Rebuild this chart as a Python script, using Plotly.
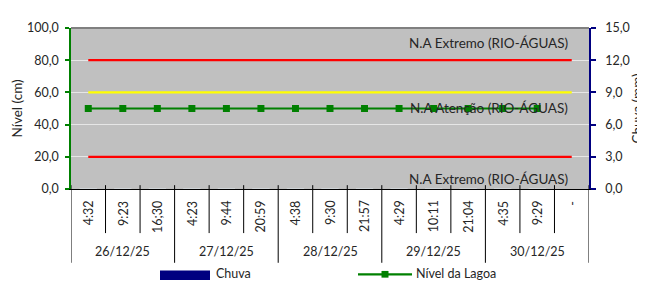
import plotly.graph_objects as go

# ---- data ----
dates = ["26/12/25", "27/12/25", "28/12/25", "29/12/25", "30/12/25"]
times_per_date = [
    ["4:32", "9:23", "16;30"],
    ["4:23", "9:44", "20:59"],
    ["4:38", "9:30", "21:57"],
    ["4:29", "10:11", "21:04"],
    ["4:35", "9:29", "-"],
]
times = [t for grp in times_per_date for t in grp]

nivel_lagoa = [50, 50, 50, 50, 50, 50, 50, 50, 50, 50, 50, 50, 50, 50, None]
chuva = [0, 0, 0, 0, 0, 0, 0, 0, 0, 0, 0, 0, 0, 0, None]
extremo_sup = [80, 80, 80, 80, 80, 80, 80, 80, 80, 80, 80, 80, 80, 80, 80]
atencao = [60, 60, 60, 60, 60, 60, 60, 60, 60, 60, 60, 60, 60, 60, 60]
extremo_inf = [20, 20, 20, 20, 20, 20, 20, 20, 20, 20, 20, 20, 20, 20, 20]

label_extremo = "N.A Extremo (RIO-ÁGUAS)"
label_atencao = "N.A Atenção (RIO-ÁGUAS)"

FONT = "Lato"
TXT = "#262626"
GREEN = "#008000"
NAVY = "#000080"

# The page body has an 8px margin, so the figure starts at window (8, 8).
OFF = 8
W, H = 645 - OFF, 284 - OFF
# plot area in window pixels: x 71..589, y 21..189
PL, PR, PT, PB = 71, 589, 21, 189
L, R, T, B = PL - OFF, W - (PR - OFF), PT - OFF, H - (PB - OFF)
PW, PH = PR - PL, PB - PT


def px(x):
    return (x - PL) / PW


def py(y):
    return (PB - y) / PH


fig = go.Figure()

fig.add_trace(go.Bar(x=times, y=chuva, name="Chuva", marker_color=NAVY,
                     yaxis="y2", showlegend=False))
fig.add_trace(go.Scatter(x=times, y=extremo_sup, mode="lines", line=dict(color="#ff0000", width=2.2),
                         showlegend=False, hoverinfo="skip"))
fig.add_trace(go.Scatter(x=times, y=atencao, mode="lines", line=dict(color="#ffff00", width=2.2),
                         showlegend=False, hoverinfo="skip"))
fig.add_trace(go.Scatter(x=times, y=extremo_inf, mode="lines", line=dict(color="#ff0000", width=2.2),
                         showlegend=False, hoverinfo="skip"))
fig.add_trace(go.Scatter(x=times, y=nivel_lagoa, mode="lines+markers", name="Nível da Lagoa",
                         line=dict(color=GREEN, width=2.2),
                         marker=dict(symbol="square", size=7, color=GREEN),
                         showlegend=False))

annotations = []
shapes = []

# series labels
n_last = len(times) - 1
annotations.append(dict(x=n_last, y=extremo_sup[-1], xref="x", yref="y", text=label_extremo,
                        showarrow=False, xanchor="right", yanchor="bottom", xshift=-2, yshift=7,
                        font=dict(family=FONT, size=13.5, color=TXT)))
annotations.append(dict(x=n_last, y=atencao[-1], xref="x", yref="y", text=label_atencao,
                        showarrow=False, xanchor="right", yanchor="top", xshift=-2, yshift=-6,
                        font=dict(family=FONT, size=13.5, color=TXT)))
annotations.append(dict(x=n_last, y=extremo_inf[-1], xref="x", yref="y", text=label_extremo,
                        showarrow=False, xanchor="right", yanchor="top", xshift=-2, yshift=-12,
                        font=dict(family=FONT, size=13.5, color=TXT)))

# x-axis time labels
for i, t in enumerate(times):
    annotations.append(dict(x=i, y=py(199), xref="x", yref="paper", text=t, textangle=-90,
                            showarrow=False, xanchor="center", yanchor="top",
                            font=dict(family=FONT, size=12.5, color=TXT)))

# x-axis date labels and separators
start = 0
for d, grp in zip(dates, times_per_date):
    n = len(grp)
    center = start + (n - 1) / 2
    annotations.append(dict(x=center, y=py(254), xref="x", yref="paper", text=d,
                            showarrow=False, xanchor="center", yanchor="middle",
                            font=dict(family=FONT, size=12.5, color=TXT)))
    for k in range(1, n):
        xb = start + k - 0.5
        shapes.append(dict(type="line", xref="x", yref="paper", x0=xb, x1=xb,
                           y0=py(185), y1=py(235), line=dict(color="#000000", width=1)))
    xb = start - 0.5
    shapes.append(dict(type="line", xref="x", yref="paper", x0=xb, x1=xb,
                       y0=py(185), y1=py(266), line=dict(color="#000000", width=1)))
    start += n
shapes.append(dict(type="line", xref="x", yref="paper", x0=start - 0.5, x1=start - 0.5,
                   y0=py(185), y1=py(266), line=dict(color="#000000", width=1)))

# top border
shapes.append(dict(type="line", xref="paper", yref="paper", x0=0, x1=1, y0=1, y1=1,
                   line=dict(color="#808080", width=2)))

# axis titles
annotations.append(dict(x=px(16), y=0.5, xref="paper", yref="paper", text="Nível (cm)",
                        textangle=-90, showarrow=False, xanchor="center", yanchor="middle",
                        font=dict(family=FONT, size=13.5, color=TXT)))
annotations.append(dict(x=px(636), y=0.5, xref="paper", yref="paper", text="Chuva (mm)",
                        textangle=-90, showarrow=False, xanchor="center", yanchor="middle",
                        font=dict(family=FONT, size=13.5, color=TXT)))

# manual legend
shapes.append(dict(type="rect", xref="paper", yref="paper", x0=px(160), x1=px(210),
                   y0=py(274), y1=py(284), fillcolor=NAVY, line=dict(width=0)))
annotations.append(dict(x=px(214), y=py(277), xref="paper", yref="paper", text="Chuva",
                        showarrow=False, xanchor="left", yanchor="middle",
                        font=dict(family=FONT, size=12.5, color=TXT)))
shapes.append(dict(type="line", xref="paper", yref="paper", x0=px(358), x1=px(412),
                   y0=py(278), y1=py(278), line=dict(color=GREEN, width=2.2)))
shapes.append(dict(type="rect", xref="paper", yref="paper", x0=px(381.5), x1=px(388.5),
                   y0=py(274.5), y1=py(281.5), fillcolor=GREEN, line=dict(width=0)))
annotations.append(dict(x=px(414), y=py(277), xref="paper", yref="paper", text="Nível da Lagoa",
                        showarrow=False, xanchor="left", yanchor="middle",
                        font=dict(family=FONT, size=12.5, color=TXT)))

fig.update_layout(
    width=W, height=H,
    margin=dict(l=L, r=R, t=T, b=B, pad=0),
    paper_bgcolor="#ffffff",
    plot_bgcolor="#c0c0c0",
    separators=",.",
    font=dict(family=FONT, size=12, color=TXT),
    showlegend=False,
    bargap=0.5,
    xaxis=dict(type="category", categoryorder="array", categoryarray=times,
               range=[-0.5, len(times) - 0.5], showticklabels=False, ticks="",
               showgrid=False, zeroline=False, showline=True, linecolor="#000000", linewidth=1,
               fixedrange=True),
    yaxis=dict(range=[0, 100], dtick=20, tickformat=".1f", showgrid=True, gridcolor="#e6e6e6",
               gridwidth=1, zeroline=False, showline=True, linecolor=GREEN, linewidth=1.5,
               ticks="outside", ticklen=4, tickcolor=GREEN, tickwidth=1.5,
               ticklabelstandoff=4, tickfont=dict(family=FONT, size=12.5, color=TXT)),
    yaxis2=dict(range=[0, 15], dtick=3, tickformat=".1f", overlaying="y", side="right",
                showgrid=False, zeroline=False, showline=True, linecolor=NAVY, linewidth=1.5,
                ticks="outside", ticklen=5, tickcolor=NAVY, tickwidth=1.5,
                ticklabelstandoff=7, tickfont=dict(family=FONT, size=12.5, color=TXT)),
    annotations=annotations,
    shapes=shapes,
)

fig.write_html("out.html")
